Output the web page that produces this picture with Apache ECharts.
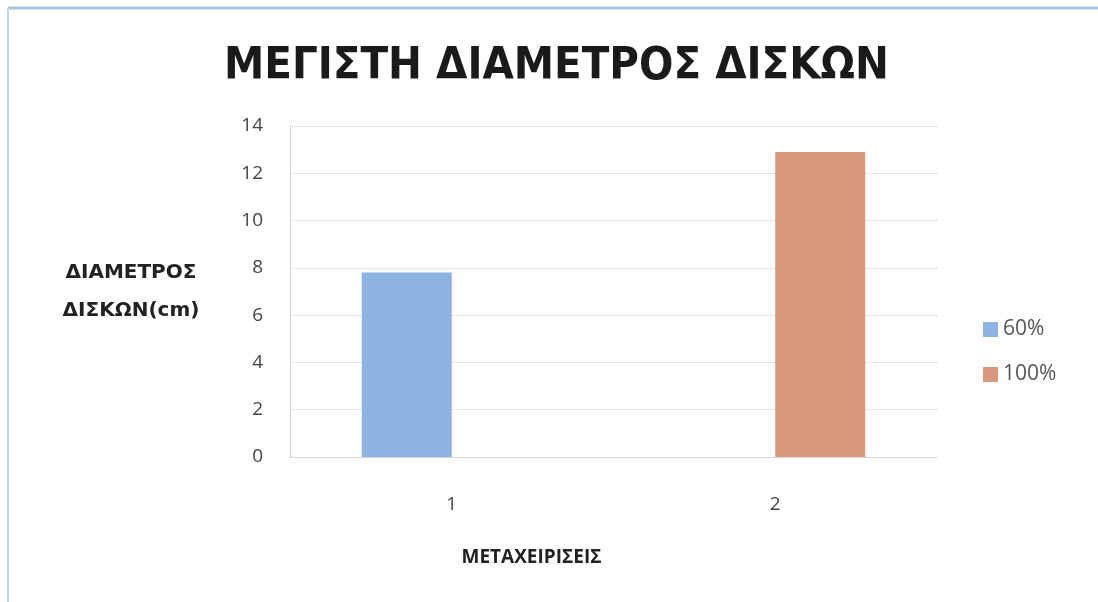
<!DOCTYPE html>
<html>
<head>
<meta charset="utf-8">
<script src="https://cdn.jsdelivr.net/npm/echarts@6/dist/echarts.min.js"></script>
<style>
  html, body { margin: 0; padding: 0; background: #fff; }
  #chart { width: 1098px; height: 602px; }
</style>
</head>
<body>
<div id="chart"></div>
<script>
// categories and values
const categories = ['1', '2'];
const seriesNames = ['60%', '100%'];
const values60 = [7.8, '-'];
const values100 = ['-', 12.9];
const yTicks = { min: 0, max: 14, interval: 2 };

const myChart = echarts.init(document.getElementById('chart'));

myChart.setOption({
  animation: false,
  backgroundColor: '#fff',
  color: ['#8DB3E2', '#D9977B'],
  title: {
    text: 'ΜΕΓΙΣΤΗ ΔΙΑΜΕΤΡΟΣ ΔΙΣΚΩΝ',
    left: 219,
    top: 40,
    textStyle: {
      fontFamily: 'Liberation Sans Narrow, DejaVu Sans Condensed, sans-serif',
      fontWeight: 'bold',
      fontSize: 45,
      color: '#1a1a1a'
    }
  },
  legend: {
    orient: 'vertical',
    left: 978,
    top: 314,
    itemWidth: 15,
    itemHeight: 15,
    itemGap: 24,
    icon: 'rect',
    textStyle: { fontFamily: 'Open Sans', fontSize: 21, color: '#555' },
    data: seriesNames
  },
  grid: { left: 290, right: 161, top: 126, bottom: 145 },
  xAxis: {
    type: 'category',
    data: categories,
    name: 'ΜΕΤΑΧΕΙΡΙΣΕΙΣ',
    nameLocation: 'middle',
    nameGap: 91,
    nameTextStyle: {
      fontFamily: 'Open Sans',
      fontWeight: 'bold',
      fontSize: 19,
      color: '#222',
      padding: [0, 164, 0, 0]
    },
    axisLine: { lineStyle: { color: '#ccc', type: 'dotted' } },
    axisTick: { show: false },
    axisLabel: { margin: 38, fontFamily: 'Open Sans', fontSize: 19, color: '#444' }
  },
  yAxis: {
    type: 'value',
    min: yTicks.min,
    max: yTicks.max,
    interval: yTicks.interval,
    name: 'ΔΙΑΜΕΤΡΟΣ\nΔΙΣΚΩΝ(cm)',
    nameLocation: 'middle',
    nameRotate: 0,
    nameGap: 131,
    nameTextStyle: {
      fontFamily: 'DejaVu Sans',
      fontWeight: 'bold',
      fontSize: 20,
      lineHeight: 38,
      color: '#222',
      align: 'center',
      padding: [0, 36, 0, 0]
    },
    axisLine: { show: true, lineStyle: { color: '#ccc', type: 'dotted' } },
    axisTick: { show: false },
    splitLine: { lineStyle: { color: '#c8c8c8', type: 'dotted' } },
    axisLabel: { margin: 27, fontFamily: 'Open Sans', fontSize: 19, color: '#444' }
  },
  graphic: [
    { type: 'line', shape: { x1: 8, y1: 8, x2: 1098, y2: 8 }, style: { stroke: '#a9c4e4', lineWidth: 3 } },
    { type: 'line', shape: { x1: 8, y1: 8, x2: 8, y2: 602 }, style: { stroke: '#c5d6ec', lineWidth: 2 } }
  ],
  series: [
    { name: seriesNames[0], type: 'bar', data: values60, barWidth: 90, barGap: '0%' },
    { name: seriesNames[1], type: 'bar', data: values100, barWidth: 90, barGap: '0%' }
  ]
});
</script>
</body>
</html>
